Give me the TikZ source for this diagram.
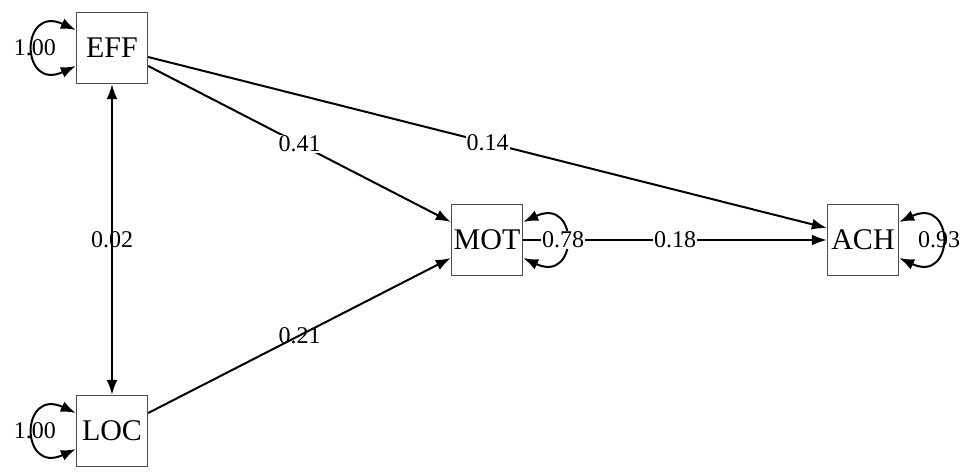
\documentclass[tikz,border=0pt]{standalone}
\usepackage{fontspec}
\setmainfont{Liberation Serif}
\usetikzlibrary{arrows.meta}

\begin{document}
\begin{tikzpicture}[x=1pt, y=-1pt,
  var/.style={rectangle, draw=black!70, line width=1.4pt, minimum size=71pt, inner sep=0pt, font=\fontsize{30}{30}\selectfont},
  lbl/.style={font=\fontsize{24}{24}\selectfont, inner sep=1pt},
  wlbl/.style={lbl, fill=white},
  arr/.style={line width=2pt, -{Latex[length=15pt,width=11pt]}},
  dbl/.style={line width=2pt, {Latex[length=15pt,width=11pt]}-{Latex[length=15pt,width=11pt]}}]
  \useasboundingbox (0,0) rectangle (962,472);

  \node[var] (EFF) at (112,48) {EFF};
  \node[var] (LOC) at (112,431) {LOC};
  \node[var] (MOT) at (487,240) {MOT};
  \node[var] (ACH) at (863,240) {ACH};

  \draw[dbl] (EFF) -- node[lbl] {0.02} (LOC);
  \draw[arr] ([yshift=-18pt]EFF.east) -- node[wlbl] {0.41} ([yshift=18pt]MOT.west);
  \draw[arr] ([yshift=18pt]LOC.east) -- node[lbl] {0.21} ([yshift=-18pt]MOT.west);
  \draw[arr] ([yshift=-9pt]EFF.east) -- node[wlbl] {0.14} ([yshift=12pt]ACH.west);
  \draw[arr] (MOT) -- node[wlbl] {0.18} (ACH);

  % variances
  \draw[dbl] ([yshift=18pt]EFF.west) .. controls +(-56pt,26pt) and +(-56pt,-26pt) .. ([yshift=-18pt]EFF.west);
  \draw[dbl] ([yshift=18pt]LOC.west) .. controls +(-56pt,26pt) and +(-56pt,-26pt) .. ([yshift=-18pt]LOC.west);
  \draw[dbl] ([yshift=18pt]MOT.east) .. controls +(56pt,26pt) and +(56pt,-26pt) .. ([yshift=-18pt]MOT.east);
  \draw[dbl] ([yshift=18pt]ACH.east) .. controls +(56pt,26pt) and +(56pt,-26pt) .. ([yshift=-18pt]ACH.east);

  \node[lbl] (vEFF) at ([xshift=-41pt]EFF.west) {1.00};
  \node[lbl] (vLOC) at ([xshift=-41pt]LOC.west) {1.00};
  \node[wlbl] (vMOT) at ([xshift=40pt]MOT.east) {0.78};
  \node[lbl] (vACH) at ([xshift=40pt]ACH.east) {0.93};
\end{tikzpicture}
\end{document}
